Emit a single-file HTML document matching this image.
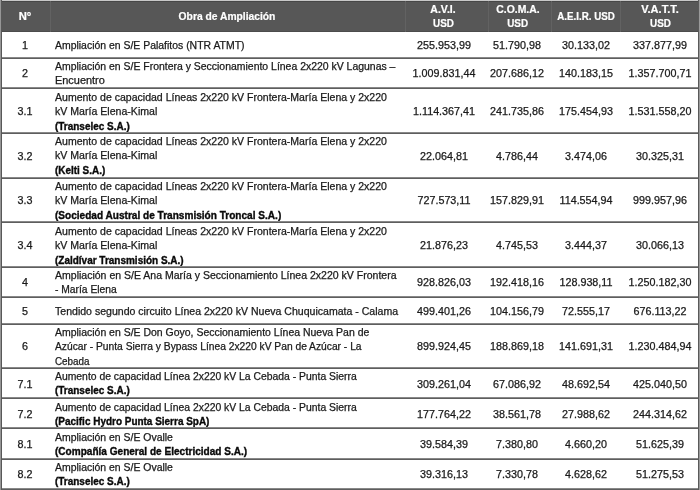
<!DOCTYPE html>
<html><head><meta charset="utf-8"><style>
html,body{margin:0;padding:0;background:#fff;}
body{-webkit-font-smoothing:antialiased;width:700px;height:490px;position:relative;overflow:hidden;font-family:"Liberation Sans",sans-serif;color:#1a1a1a;}
.hd{position:absolute;left:0;top:1.0px;width:700px;height:30.60px;background:#575757;}
.vl{position:absolute;top:1.0px;height:30.60px;width:1px;background:#626262;}
.hl{position:absolute;left:0;width:700px;height:2px;background:linear-gradient(#888 0,#888 50%,#5e5e5e 50%,#5e5e5e 100%);}
.t{will-change:transform;position:absolute;white-space:nowrap;font-size:10.0px;line-height:14.3px;-webkit-text-stroke:0.25px #1a1a1a;}
.t span{display:inline-block;transform-origin:0 50%;}
.c{transform:translateX(-50%) scaleX(1.075);text-align:center;}
.ht{-webkit-text-stroke:0.2px #fff;will-change:transform;position:absolute;white-space:nowrap;font-size:10.1px;line-height:14px;font-weight:bold;color:#fff;text-align:center;transform:translateX(-50%);}
.ht span{display:inline-block;}
.b{font-weight:bold;color:#0a0a0a;-webkit-text-stroke:0.35px #0a0a0a;}
.lb{position:absolute;left:0;top:0;width:1px;height:490px;background:#969696;}
.lb2{position:absolute;left:1px;top:0;width:1px;height:490px;background:#585858;}
.rb{position:absolute;left:698px;top:0;width:1px;height:490px;background:#5a5a5a;}
.rb2{position:absolute;left:699px;top:0;width:1px;height:490px;background:#9a9a9a;}
.tp{position:absolute;left:0;top:0;width:700px;height:1px;background:#c8c8c8;}
.tp2{position:absolute;left:0;top:1px;width:700px;height:1px;background:#474747;}
.hb{position:absolute;left:0;top:30.8px;width:700px;height:1px;background:#4c4c4c;}
</style></head><body>
<div class="tp"></div>
<div class="hd"></div><div class="tp2"></div><div class="hb"></div>
<div class="vl" style="left:50px"></div>
<div class="vl" style="left:405px"></div>
<div class="vl" style="left:488px"></div>
<div class="vl" style="left:550.5px"></div>
<div class="vl" style="left:620px"></div>
<div class="ht" style="left:25.2px;top:9.5px"><span style="transform:scaleX(1.112)">N°</span></div>
<div class="ht" style="left:226.7px;top:9.5px"><span style="transform:scaleX(1.019)">Obra de Ampliación</span></div>
<div class="ht" style="left:443.4px;top:2.6px"><span style="transform:scaleX(1.040)">A.V.I.</span><br><span style="transform:scaleX(0.978)">USD</span></div>
<div class="ht" style="left:517.6px;top:2.6px"><span style="transform:scaleX(1.030)">C.O.M.A.</span><br><span style="transform:scaleX(0.978)">USD</span></div>
<div class="ht" style="left:586.1px;top:9.5px"><span style="transform:scaleX(0.968)">A.E.I.R. USD</span></div>
<div class="ht" style="left:659.7px;top:2.6px"><span style="transform:scaleX(1.091)">V.A.T.T.</span><br><span style="transform:scaleX(0.978)">USD</span></div>
<div class="t" style="left:55px;top:39.10px"><span style="transform:scaleX(1.044)">Ampliación en S/E Palafitos (NTR ATMT)</span></div>
<div class="t c" style="left:25.2px;top:39.10px">1</div>
<div class="t c" style="left:443.6px;top:39.10px">255.953,99</div>
<div class="t c" style="left:517.3px;top:39.10px">51.790,98</div>
<div class="t c" style="left:586.0px;top:39.10px">30.133,02</div>
<div class="t c" style="left:659.7px;top:39.10px">337.877,99</div>
<div class="t" style="left:55px;top:60.05px"><span style="transform:scaleX(1.045)">Ampliación en S/E Frontera y Seccionamiento Línea 2x220 kV Lagunas –</span><br><span style="transform:scaleX(1.093)">Encuentro</span></div>
<div class="t c" style="left:25.2px;top:67.20px">2</div>
<div class="t c" style="left:443.6px;top:67.20px">1.009.831,44</div>
<div class="t c" style="left:517.3px;top:67.20px">207.686,12</div>
<div class="t c" style="left:586.0px;top:67.20px">140.183,15</div>
<div class="t c" style="left:659.7px;top:67.20px">1.357.700,71</div>
<div class="t" style="left:55px;top:90.50px"><span style="transform:scaleX(1.053)">Aumento de capacidad Líneas 2x220 kV Frontera-María Elena y 2x220</span><br><span style="transform:scaleX(1.058)">kV María Elena-Kimal</span><br><span class="b" style="transform:scaleX(0.996)">(Transelec S.A.)</span></div>
<div class="t c" style="left:25.2px;top:104.80px">3.1</div>
<div class="t c" style="left:443.6px;top:104.80px">1.114.367,41</div>
<div class="t c" style="left:517.3px;top:104.80px">241.735,86</div>
<div class="t c" style="left:586.0px;top:104.80px">175.454,93</div>
<div class="t c" style="left:659.7px;top:104.80px">1.531.558,20</div>
<div class="t" style="left:55px;top:135.25px"><span style="transform:scaleX(1.053)">Aumento de capacidad Líneas 2x220 kV Frontera-María Elena y 2x220</span><br><span style="transform:scaleX(1.058)">kV María Elena-Kimal</span><br><span class="b" style="transform:scaleX(0.994)">(Kelti S.A.)</span></div>
<div class="t c" style="left:25.2px;top:149.55px">3.2</div>
<div class="t c" style="left:443.6px;top:149.55px">22.064,81</div>
<div class="t c" style="left:517.3px;top:149.55px">4.786,44</div>
<div class="t c" style="left:586.0px;top:149.55px">3.474,06</div>
<div class="t c" style="left:659.7px;top:149.55px">30.325,31</div>
<div class="t" style="left:55px;top:180.00px"><span style="transform:scaleX(1.053)">Aumento de capacidad Líneas 2x220 kV Frontera-María Elena y 2x220</span><br><span style="transform:scaleX(1.058)">kV María Elena-Kimal</span><br><span class="b" style="transform:scaleX(1.007)">(Sociedad Austral de Transmisión Troncal S.A.)</span></div>
<div class="t c" style="left:25.2px;top:194.30px">3.3</div>
<div class="t c" style="left:443.6px;top:194.30px">727.573,11</div>
<div class="t c" style="left:517.3px;top:194.30px">157.829,91</div>
<div class="t c" style="left:586.0px;top:194.30px">114.554,94</div>
<div class="t c" style="left:659.7px;top:194.30px">999.957,96</div>
<div class="t" style="left:55px;top:224.50px"><span style="transform:scaleX(1.053)">Aumento de capacidad Líneas 2x220 kV Frontera-María Elena y 2x220</span><br><span style="transform:scaleX(1.058)">kV María Elena-Kimal</span><br><span class="b" style="transform:scaleX(0.998)">(Zaldívar Transmisión S.A.)</span></div>
<div class="t c" style="left:25.2px;top:238.80px">3.4</div>
<div class="t c" style="left:443.6px;top:238.80px">21.876,23</div>
<div class="t c" style="left:517.3px;top:238.80px">4.745,53</div>
<div class="t c" style="left:586.0px;top:238.80px">3.444,37</div>
<div class="t c" style="left:659.7px;top:238.80px">30.066,13</div>
<div class="t" style="left:55px;top:269.05px"><span style="transform:scaleX(1.052)">Ampliación en S/E Ana María y Seccionamiento Línea 2x220 kV Frontera</span><br><span style="transform:scaleX(1.027)">- María Elena</span></div>
<div class="t c" style="left:25.2px;top:276.20px">4</div>
<div class="t c" style="left:443.6px;top:276.20px">928.826,03</div>
<div class="t c" style="left:517.3px;top:276.20px">192.418,16</div>
<div class="t c" style="left:586.0px;top:276.20px">128.938,11</div>
<div class="t c" style="left:659.7px;top:276.20px">1.250.182,30</div>
<div class="t" style="left:55px;top:304.70px"><span style="transform:scaleX(1.055)">Tendido segundo circuito Línea 2x220 kV Nueva Chuquicamata - Calama</span></div>
<div class="t c" style="left:25.2px;top:304.70px">5</div>
<div class="t c" style="left:443.6px;top:304.70px">499.401,26</div>
<div class="t c" style="left:517.3px;top:304.70px">104.156,79</div>
<div class="t c" style="left:586.0px;top:304.70px">72.555,17</div>
<div class="t c" style="left:659.7px;top:304.70px">676.113,22</div>
<div class="t" style="left:55px;top:325.90px"><span style="transform:scaleX(1.047)">Ampliación en S/E Don Goyo, Seccionamiento Línea Nueva Pan de</span><br><span style="transform:scaleX(1.025)">Azúcar - Punta Sierra y Bypass Línea 2x220 kV Pan de Azúcar - La</span><br><span style="transform:scaleX(0.986)">Cebada</span></div>
<div class="t c" style="left:25.2px;top:340.20px">6</div>
<div class="t c" style="left:443.6px;top:340.20px">899.924,45</div>
<div class="t c" style="left:517.3px;top:340.20px">188.869,18</div>
<div class="t c" style="left:586.0px;top:340.20px">141.691,31</div>
<div class="t c" style="left:659.7px;top:340.20px">1.230.484,94</div>
<div class="t" style="left:55px;top:370.45px"><span style="transform:scaleX(1.038)">Aumento de capacidad Línea 2x220 kV La Cebada - Punta Sierra</span><br><span class="b" style="transform:scaleX(0.996)">(Transelec S.A.)</span></div>
<div class="t c" style="left:25.2px;top:377.60px">7.1</div>
<div class="t c" style="left:443.6px;top:377.60px">309.261,04</div>
<div class="t c" style="left:517.3px;top:377.60px">67.086,92</div>
<div class="t c" style="left:586.0px;top:377.60px">48.692,54</div>
<div class="t c" style="left:659.7px;top:377.60px">425.040,50</div>
<div class="t" style="left:55px;top:400.65px"><span style="transform:scaleX(1.038)">Aumento de capacidad Línea 2x220 kV La Cebada - Punta Sierra</span><br><span class="b" style="transform:scaleX(0.996)">(Pacific Hydro Punta Sierra SpA)</span></div>
<div class="t c" style="left:25.2px;top:407.80px">7.2</div>
<div class="t c" style="left:443.6px;top:407.80px">177.764,22</div>
<div class="t c" style="left:517.3px;top:407.80px">38.561,78</div>
<div class="t c" style="left:586.0px;top:407.80px">27.988,62</div>
<div class="t c" style="left:659.7px;top:407.80px">244.314,62</div>
<div class="t" style="left:55px;top:430.95px"><span style="transform:scaleX(1.045)">Ampliación en S/E Ovalle</span><br><span class="b" style="transform:scaleX(1.005)">(Compañía General de Electricidad S.A.)</span></div>
<div class="t c" style="left:25.2px;top:438.10px">8.1</div>
<div class="t c" style="left:443.6px;top:438.10px">39.584,39</div>
<div class="t c" style="left:517.3px;top:438.10px">7.380,80</div>
<div class="t c" style="left:586.0px;top:438.10px">4.660,20</div>
<div class="t c" style="left:659.7px;top:438.10px">51.625,39</div>
<div class="t" style="left:55px;top:461.25px"><span style="transform:scaleX(1.045)">Ampliación en S/E Ovalle</span><br><span class="b" style="transform:scaleX(0.996)">(Transelec S.A.)</span></div>
<div class="t c" style="left:25.2px;top:468.40px">8.2</div>
<div class="t c" style="left:443.6px;top:468.40px">39.316,13</div>
<div class="t c" style="left:517.3px;top:468.40px">7.330,78</div>
<div class="t c" style="left:586.0px;top:468.40px">4.628,62</div>
<div class="t c" style="left:659.7px;top:468.40px">51.275,53</div>
<div class="hl" style="top:56.50px"></div>
<div class="hl" style="top:87.00px"></div>
<div class="hl" style="top:131.70px"></div>
<div class="hl" style="top:176.50px"></div>
<div class="hl" style="top:221.20px"></div>
<div class="hl" style="top:265.50px"></div>
<div class="hl" style="top:296.00px"></div>
<div class="hl" style="top:322.50px"></div>
<div class="hl" style="top:367.00px"></div>
<div class="hl" style="top:397.30px"></div>
<div class="hl" style="top:427.40px"></div>
<div class="hl" style="top:457.90px"></div>
<div class="hl" style="top:488.00px"></div>
<div class="lb"></div><div class="lb2"></div><div class="rb"></div><div class="rb2"></div>
</body></html>
